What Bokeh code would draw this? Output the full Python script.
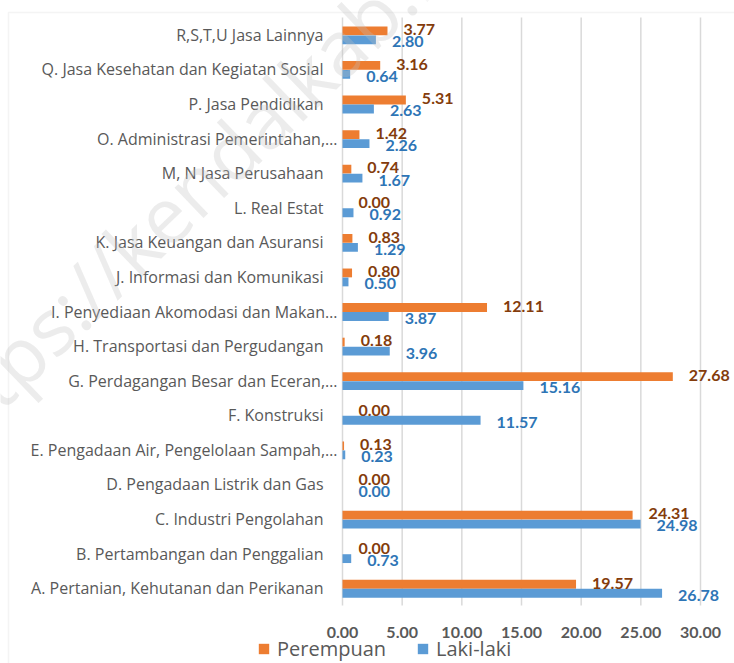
from bokeh.plotting import figure
from bokeh.models import (ColumnDataSource, Range1d, Legend, LegendItem, Label,
                          BoxAnnotation)
from bokeh.transform import dodge
from bokeh.core.properties import value
from bokeh.embed import file_html
from bokeh.resources import INLINE

categories = [
    "A. Pertanian, Kehutanan dan Perikanan",
    "B. Pertambangan dan Penggalian",
    "C. Industri Pengolahan",
    "D. Pengadaan Listrik dan Gas",
    "E. Pengadaan Air, Pengelolaan Sampah,\u2026",
    "F. Konstruksi",
    "G. Perdagangan Besar dan Eceran,\u2026",
    "H. Transportasi dan Pergudangan",
    "I. Penyediaan Akomodasi dan Makan\u2026",
    "J. Informasi dan Komunikasi",
    "K. Jasa Keuangan dan Asuransi",
    "L. Real Estat",
    "M, N Jasa Perusahaan",
    "O. Administrasi Pemerintahan,\u2026",
    "P. Jasa Pendidikan",
    "Q. Jasa Kesehatan dan Kegiatan Sosial",
    "R,S,T,U Jasa Lainnya",
]
perempuan = [19.57, 0.00, 24.31, 0.00, 0.13, 0.00, 27.68, 0.18, 12.11, 0.80,
             0.83, 0.00, 0.74, 1.42, 5.31, 3.16, 3.77]
laki_laki = [26.78, 0.73, 24.98, 0.00, 0.23, 11.57, 15.16, 3.96, 3.87, 0.50,
             1.29, 0.92, 1.67, 2.26, 2.63, 0.64, 2.80]
x_ticks = [0, 5, 10, 15, 20, 25, 30]
x_tick_labels = ["0.00", "5.00", "10.00", "15.00", "20.00", "25.00", "30.00"]
series_names = ["Perempuan", "Laki-laki"]
watermark = "https://kendalkab.bps.go.id"

ORANGE = "#ED7D31"
BLUE = "#5B9BD5"
ORANGE_TXT = "#843C0C"
BLUE_TXT = "#2E75B6"
GREY_TXT = "#595959"
GRID = "#D9D9D9"

# ---- layout (pixels) ----
W, H = 734, 663
PLOT_LEFT, PLOT_RIGHT = 342, 700      # x = 0 and x = 30
PLOT_TOP, PLOT_BOTTOM = 17, 605
N = len(categories)
xmax = x_ticks[-1]
xs = (PLOT_RIGHT - PLOT_LEFT) / xmax
ys = (PLOT_BOTTOM - PLOT_TOP) / N
x_range = Range1d(-PLOT_LEFT / xs, (W - PLOT_LEFT) / xs)
y_range = Range1d(-(H - PLOT_BOTTOM) / ys, N + PLOT_TOP / ys)

ypos = [i + 0.5 for i in range(N)]
# truncated (ellipsis) labels sit closer to the axis, as in the original
cat_offset = [-5 if c.endswith("\u2026") else -19 for c in categories]
src = ColumnDataSource(dict(
    y=ypos,
    cat=categories,
    cat_off=cat_offset,
    p=perempuan,
    l=laki_laki,
    p_lab=[f"{v:.2f}" for v in perempuan],
    l_lab=[f"{v:.2f}" for v in laki_laki],
))

p = figure(
    width=W, height=H,
    x_range=x_range, y_range=y_range,
    x_axis_location=None, y_axis_location=None,
    output_backend="svg", toolbar_location=None,
    min_border=0,
)
p.outline_line_color = None
p.grid.visible = False
p.background_fill_color = "white"
p.border_fill_color = "white"

# outer chart border (only top/left edges are inside the window)
p.add_layout(BoxAnnotation(left=8, right=W + 50, top=H - 12, bottom=-50,
                           left_units="screen", right_units="screen",
                           top_units="screen", bottom_units="screen",
                           fill_alpha=0, line_color=GRID, line_width=1.5,
                           level="underlay"))

# vertical gridlines and category axis line
p.segment(x0=x_ticks, y0=[0] * len(x_ticks), x1=x_ticks, y1=[N] * len(x_ticks),
          line_color=GRID, line_width=1.5)

r_p = p.hbar(y=dodge("y", 0.115), right="p", left=0, height=0.255,
             source=src, fill_color=ORANGE, line_color=None)
r_l = p.hbar(y=dodge("y", -0.145), right="l", left=0, height=0.255,
             source=src, fill_color=BLUE, line_color=None)

# data labels
p.text(x="p", y=dodge("y", 0.15), text="p_lab", source=src,
       x_offset=16, text_align="left", text_baseline="middle",
       text_font=value("Lato"), text_font_style="bold", text_font_size="16px",
       text_color=ORANGE_TXT)
p.text(x="l", y=dodge("y", -0.2), text="l_lab", source=src,
       x_offset=16, text_align="left", text_baseline="middle",
       text_font=value("Lato"), text_font_style="bold", text_font_size="16px",
       text_color=BLUE_TXT)

# category labels (axis)
p.text(x=0, y="y", text="cat", source=src, x_offset="cat_off",
       text_align="right", text_baseline="middle",
       text_font=value("Open Sans"), text_font_size="16px", text_color=GREY_TXT)

# value axis labels
p.text(x=x_ticks, y=[0] * len(x_ticks), text=x_tick_labels, y_offset=27,
       text_align="center", text_baseline="middle",
       text_font=value("Lato"), text_font_style="bold", text_font_size="16px",
       text_color=GREY_TXT)

legend = Legend(
    items=[LegendItem(label=series_names[0], renderers=[r_p]),
           LegendItem(label=series_names[1], renderers=[r_l])],
    location=(257, 1),
    orientation="horizontal",
    border_line_color=None, background_fill_alpha=0,
    padding=0, margin=0, spacing=30,
    glyph_width=13, glyph_height=13, label_standoff=7,
    label_text_font="Open Sans", label_text_font_size="20px",
    label_text_color=GREY_TXT, label_height=20,
)
p.add_layout(legend, "center")

wm = Label(x=-75, y=H - 444, x_units="screen", y_units="screen", text=watermark,
           angle=44, angle_units="deg", text_font="Open Sans",
           text_font_size="78px", text_color="#BFBFBF", text_alpha=0.3,
           text_align="left", text_baseline="alphabetic", level="overlay")
p.add_layout(wm)

open("out.html", "w").write(file_html(p, INLINE))
